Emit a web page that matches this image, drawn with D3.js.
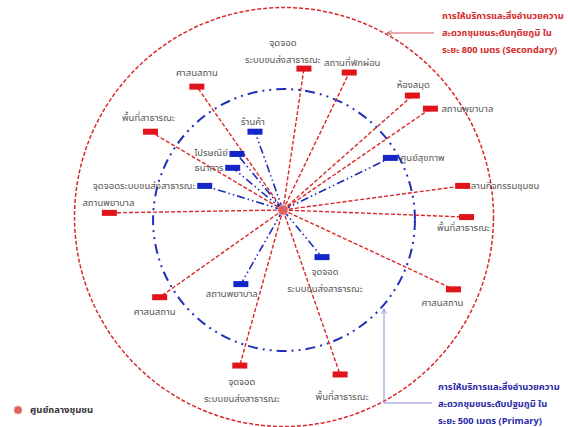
<!DOCTYPE html>
<html>
<head>
<meta charset="utf-8">
<script src="https://cdn.jsdelivr.net/npm/d3@7"></script>
<style>
  body { margin: 0; background: #fff; }
  text { font-family: "Noto Sans Thai", "Noto Sans", "DejaVu Sans", sans-serif; }
</style>
</head>
<body>
<div id="main"></div>
<script>
// facility data: offset from community centre in metres (east, north)
const secondaryNames = [
  ['จุดจอด', 'ระบบขนส่งสาธารณะ'], ['สถานที่พักผ่อน'], ['ศาสนสถาน'], ['ห้องสมุด'],
  ['สถานพยาบาล'], ['พื้นที่สาธารณะ'], ['ลานกิจกรรมชุมชน'], ['สถานพยาบาล'],
  ['พื้นที่สาธารณะ'], ['ศาสนสถาน'], ['ศาสนสถาน'], ['จุดจอด', 'ระบบขนส่งสาธารณะ'],
  ['พื้นที่สาธารณะ']
];
const secondaryEast = [80, 253, -329, 494, 563, -506, 686, -663, 701, 651, -471, -165, 218];
const secondaryNorth = [540, 525, 471, 437, 387, 299, 92, -11, -27, -303, -333, -594, -628];

const primaryNames = [
  ['ร้านค้า'], ['ไปรษณีย์'], ['ธนาคาร'], ['จุดจอดระบบขนส่งสาธารณะ'],
  ['ศูนย์สุขภาพ'], ['จุดจอด', 'ระบบขนส่งสาธารณะ'], ['สถานพยาบาล']
];
const primaryEast = [-107, -176, -192, -299, 410, 149, -161];
const primaryNorth = [299, 214, 161, 92, 199, -180, -283];

const ringDistances = [500, 800]; // metres

const secondaryNote = ['การให้บริการและสิ่งอำนวยความ', 'สะดวกชุมชนระดับทุติยภูมิ ใน', 'ระยะ 800 เมตร (Secondary)'];
const primaryNote = ['การให้บริการและสิ่งอำนวยความ', 'สะดวกชุมชนระดับปฐมภูมิ ใน', 'ระยะ 500 เมตร (Primary)'];
const legendLabel = 'ศูนย์กลางชุมชน';

// label placement: [dx, dy, anchor] relative to marker centre
const secondaryLabelPos = [
  [-21, -26, 'middle'], [3, -10, 'middle'], [0, -14, 'middle'], [1, -11, 'middle'],
  [11, 0, 'start'], [-2, -14, 'middle'], [8, 0, 'start'], [-1, -10, 'middle'],
  [-3, 11, 'middle'], [-11, 14, 'middle'], [-5, 15, 'middle'], [2, 16, 'middle'],
  [2, 23, 'middle']
];
const primaryLabelPos = [
  [-2, -10, 'middle'], [-9, -1, 'end'], [-9, 0, 'end'], [-9, 0, 'end'],
  [10, 0, 'start'], [3, 15, 'middle'], [-9, 10, 'middle']
];

const width = 568, height = 427;
const hub = { x: 283, y: 210 };
const ringCentre = { x: 284, y: 218 };

const svg = d3.select('#main').append('svg')
  .attr('width', width).attr('height', height);

// metres -> pixels
const r = d3.scaleLinear().domain([0, 800]).range([0, 209.5]);
const x = d3.scaleLinear().domain([-800, 800]).range([hub.x - 209.5, hub.x + 209.5]);
const y = d3.scaleLinear().domain([-800, 800]).range([hub.y + 209.5, hub.y - 209.5]);

const red = '#d8282a', blue = '#1f2fb8';

// rings
svg.append('circle')
  .attr('cx', ringCentre.x).attr('cy', ringCentre.y + 2).attr('r', r(ringDistances[0]))
  .attr('fill', 'none').attr('stroke', blue).attr('stroke-width', 2)
  .attr('stroke-dasharray', '10,5,2,5,2,5');
svg.append('circle')
  .attr('cx', ringCentre.x).attr('cy', ringCentre.y - 1).attr('r', r(ringDistances[1]))
  .attr('fill', 'none').attr('stroke', red).attr('stroke-width', 1.5)
  .attr('stroke-dasharray', '4,2');

const secondary = secondaryNames.map((n, i) => ({
  name: n, e: secondaryEast[i], n2: secondaryNorth[i], pos: secondaryLabelPos[i]
}));
const primary = primaryNames.map((n, i) => ({
  name: n, e: primaryEast[i], n2: primaryNorth[i], pos: primaryLabelPos[i]
}));

// spokes
svg.append('g').selectAll('line').data(secondary).join('line')
  .attr('x1', hub.x).attr('y1', hub.y)
  .attr('x2', d => x(d.e)).attr('y2', d => y(d.n2))
  .attr('stroke', red).attr('stroke-width', 1.4).attr('stroke-dasharray', '4,2');
svg.append('g').selectAll('line').data(primary).join('line')
  .attr('x1', hub.x).attr('y1', hub.y)
  .attr('x2', d => x(d.e)).attr('y2', d => y(d.n2))
  .attr('stroke', blue).attr('stroke-width', 1.6).attr('stroke-dasharray', '8,3,1.5,3,1.5,3');

// markers
function markers(data, color) {
  const g = svg.append('g');
  g.selectAll('rect').data(data).join('rect')
    .attr('x', d => x(d.e) - 7.5).attr('y', d => y(d.n2) - 3)
    .attr('width', 15).attr('height', 6)
    .attr('fill', color);
  const t = g.selectAll('text').data(data).join('text')
    .attr('text-anchor', d => d.pos[2])
    .attr('font-size', 9.5).attr('fill', '#555')
    .attr('dominant-baseline', 'central');
  t.selectAll('tspan').data(d => d.name.map((s, k) => ({ s, k, d }))).join('tspan')
    .attr('x', o => x(o.d.e) + o.d.pos[0])
    .attr('y', o => y(o.d.n2) + o.d.pos[1] + o.k * 17)
    .text(o => o.s);
}
markers(secondary, '#e0141a');
markers(primary, '#1426c8');

// hub
svg.append('circle').attr('cx', hub.x).attr('cy', hub.y).attr('r', 5)
  .attr('fill', '#e06060').attr('stroke', '#f0a0a0').attr('stroke-width', 1);

// annotation arrows
const defs = svg.append('defs');
[['arrRed', '#d04040'], ['arrBlue', '#8080c8']].forEach(([id, c]) => {
  defs.append('marker').attr('id', id).attr('viewBox', '0 0 10 10')
    .attr('refX', 9).attr('refY', 5).attr('markerWidth', 7).attr('markerHeight', 7)
    .attr('orient', 'auto-start-reverse')
    .append('path').attr('d', 'M1,1 L9,5 L1,9').attr('fill', 'none').attr('stroke', c).attr('stroke-width', 1.2);
});
svg.append('path').attr('d', 'M434,33 L387,33')
  .attr('stroke', '#d04040').attr('fill', 'none').attr('stroke-width', 0.9)
  .attr('marker-end', 'url(#arrRed)');
svg.append('path').attr('d', 'M432,403 L384,403 L384,309')
  .attr('stroke', '#8080c8').attr('fill', 'none').attr('stroke-width', 0.9)
  .attr('marker-end', 'url(#arrBlue)');

function note(lines, x0, y0, color) {
  svg.append('g').selectAll('text').data(lines).join('text')
    .attr('x', x0).attr('y', (d, i) => y0 + i * 17)
    .attr('font-size', 9.3).attr('font-weight', 'bold').attr('fill', color)
    .attr('dominant-baseline', 'central')
    .text(d => d);
}
note(secondaryNote, 442, 16, '#d42a2a');
note(primaryNote, 438, 387, '#2a2aa8');

// legend
svg.append('circle').attr('cx', 18).attr('cy', 410).attr('r', 4)
  .attr('fill', '#e06060').attr('stroke', '#f0a0a0');
svg.append('text').attr('x', 30).attr('y', 410).attr('dominant-baseline', 'central')
  .attr('font-size', 9.5).attr('font-weight', 'bold').attr('fill', '#333')
  .text(legendLabel);
</script>
</body>
</html>
